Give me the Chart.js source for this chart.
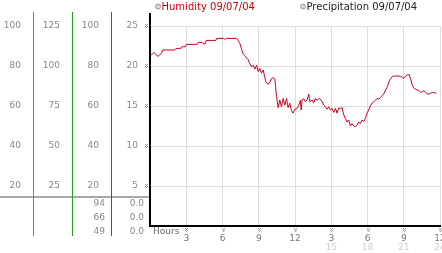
<!DOCTYPE html>
<html>
<head>
<meta charset="utf-8">
<script src="https://cdn.jsdelivr.net/npm/chart.js@4/dist/chart.umd.min.js"></script>
<style>
    html, body { margin: 0; padding: 0; background: #fff; }
    #wrap { width: 442px; height: 253px; }
</style>
</head>
<body>
<div id="wrap"><canvas id="chart" width="442" height="253"></canvas></div>
<script>
// Humidity 09/07/04 (heure, valeur)
const hours = [
    0, 0.2, 0.3, 0.45, 0.63, 0.8, 0.95, 1.05, 2.05, 2.15,
    2.55, 2.62, 2.92, 3.0, 3.9, 3.98, 4.35, 4.45, 4.58, 4.65,
    5.45, 5.52, 6.1, 6.2, 6.3, 7.16, 7.3, 7.44, 7.6, 7.71,
    7.85, 7.99, 8.12, 8.26, 8.4, 8.54, 8.68, 8.82, 8.95, 9.09,
    9.23, 9.37, 9.5, 9.59, 9.78, 9.92, 10.06, 10.19, 10.33, 10.4,
    10.47, 10.61, 10.74, 10.88, 11.02, 11.16, 11.3, 11.43, 11.57, 11.71,
    11.84, 11.98, 12.18, 12.31, 12.45, 12.51, 12.59, 12.72, 12.86, 13.0,
    13.14, 13.22, 13.42, 13.55, 13.69, 13.83, 13.97, 14.1, 14.24, 14.38,
    14.52, 14.66, 14.79, 14.93, 15.07, 15.21, 15.35, 15.48, 15.62, 15.76,
    15.9, 16.03, 16.17, 16.31, 16.45, 16.58, 16.72, 16.86, 17.0, 17.13,
    17.27, 17.41, 17.55, 17.69, 17.82, 17.96, 18.1, 18.26, 18.4, 18.54,
    18.68, 18.81, 18.95, 19.09, 19.23, 19.37, 19.5, 19.64, 19.78, 19.92,
    20.05, 20.33, 20.61, 20.74, 20.88, 21.02, 21.16, 21.3, 21.43, 21.57,
    21.71, 21.85, 21.98, 22.12, 22.26, 22.4, 22.53, 22.67, 22.81, 22.95,
    23.09, 23.22, 23.36, 23.5, 23.64, 23.69
];
const humidity = [
    21.3, 21.5, 21.7, 21.5, 21.2, 21.4, 21.6, 22.0, 22.0, 22.2,
    22.2, 22.4, 22.4, 22.7, 22.7, 22.95, 22.95, 22.75, 22.8, 23.2,
    23.2, 23.45, 23.45, 23.3, 23.45, 23.45, 23.2, 22.8, 22.0, 21.5,
    21.3, 21.0, 20.8, 20.3, 19.9, 20.1, 19.6, 20.1, 19.3, 19.7,
    19.1, 19.5, 18.6, 18.0, 17.7, 18.0, 18.45, 18.55, 18.4, 17.3,
    16.2, 14.8, 15.75, 14.9, 15.95, 15.1, 15.95, 14.8, 15.35, 14.4,
    14.1, 14.6, 14.7, 15.1, 15.7, 14.5, 15.8, 15.9, 15.55, 15.75,
    16.5, 15.55, 15.75, 15.4, 15.95, 15.7, 15.95, 15.85, 15.55, 15.1,
    14.9, 14.6, 14.9, 14.5, 14.7, 14.2, 14.7, 14.1, 14.75, 14.7,
    14.8, 13.9, 13.45, 13.0, 13.25, 12.5, 12.8, 12.5, 12.4, 12.6,
    13.0, 12.8, 13.25, 13.05, 13.45, 14.1, 14.5, 15.1, 15.4, 15.55,
    15.75, 15.95, 15.85, 16.1, 16.3, 16.6, 17.0, 17.4, 18.05, 18.45,
    18.7, 18.75, 18.75, 18.7, 18.6, 18.45, 18.75, 18.9, 18.95, 18.4,
    17.6, 17.2, 17.1, 17.0, 16.95, 16.7, 16.8, 16.9, 16.7, 16.5,
    16.5, 16.6, 16.7, 16.7, 16.6, 16.5
];
const precipitation = []; // aucune trace visible

const legendNames = ['Humidity 09/07/04', 'Precipitation 09/07/04'];

// axes
const xTicks = [0, 3, 6, 9, 12, 15, 18, 21, 24];
const xTopLabels = ['', '3', '6', '9', '12', '3', '6', '9', '12'];
const xBottomLabels = ['', '', '', '', '', '15', '18', '21', '24'];
const yTicks = [5, 10, 15, 20, 25];
const col1Ticks = [20, 40, 60, 80, 100];
const col2Ticks = [25, 50, 75, 100, 125];
const col3Ticks = [20, 40, 60, 80, 100];

// valeurs courantes sous le séparateur gris
const col3Readouts = ['94', '66', '49'];
const col4Readouts = ['0.0', '0.0', '0.0'];

const tickFont = { family: 'DejaVu Sans', size: 9 };

function fixWidth(w) {
    return function (scale) { scale.width = w; };
}
function fixHeight(h) {
    return function (scale) {
        scale.height = h;
        scale.paddingLeft = 0;
        scale.paddingRight = 0;
    };
}
function useTicks(list) {
    return function (scale) { scale.ticks = list.map(v => ({ value: v })); };
}

function sideAxis(max, ticks, weight, width) {
    return {
        type: 'linear',
        position: 'left',
        min: 0,
        max: max,
        weight: weight,
        grid: { display: false, drawTicks: false },
        border: { display: false },
        ticks: { color: '#888', font: tickFont, padding: 12 },
        afterBuildTicks: useTicks(ticks),
        afterFit: fixWidth(width)
    };
}

// petit motif pointillé devant chaque graduation
function tickMark(c, x, y) {
    c.fillStyle = '#999';
    [[0, 0], [2, 0], [1, 1], [0, 2], [2, 2], [1, 3]].forEach(([dx, dy]) => c.fillRect(x + dx, y + dy, 1, 1));
}

const decor = {
    id: 'decor',
    afterDraw(chart) {
        const c = chart.ctx;
        const area = chart.chartArea;
        const s = chart.scales;
        c.save();

        // séparateur gris à gauche
        c.fillStyle = '#a8a8a8';
        c.fillRect(0, area.bottom - 30, area.left, 2);

        // lignes de colonnes
        const colLines = [['yA', '#0aa2d8'], ['yB', '#1fa51f'], ['yC', '#d41e1e']];
        colLines.forEach(([id, col]) => {
            c.fillStyle = col;
            c.fillRect(Math.round(s[id].right), area.top - 14, 1, area.bottom - area.top + 24);
        });

        // axes noirs
        c.fillStyle = '#000';
        c.fillRect(area.left - 1, area.top - 13, 2, area.bottom - area.top + 14);
        c.fillRect(area.left - 1, area.bottom - 1, area.right - area.left + 2, 2);

        // motifs de graduation
        yTicks.forEach(v => tickMark(c, area.left - 5, Math.round(s.y.getPixelForValue(v)) - 2));
        xTicks.slice(1).forEach(v => tickMark(c, Math.round(s.x.getPixelForValue(v)) - 1, area.bottom + 2));

        c.font = '9px "DejaVu Sans"';
        c.textBaseline = 'middle';
        c.fillStyle = '#666';
        c.textAlign = 'left';
        c.fillText('Hours', area.left + 3, area.bottom + 6);

        c.fillStyle = '#888';
        c.textAlign = 'right';
        [-22, -8, 6].forEach((dy, i) => {
            c.fillText(col3Readouts[i], s.yC.right - 6, area.bottom + dy);
            c.fillText(col4Readouts[i], s.y.right - 6, area.bottom + dy);
        });

        // légende
        const legendX = [area.left + 8, area.left + 153];
        const legendColors = ['#cc0000', '#222'];
        c.font = '10px "DejaVu Sans"';
        c.textAlign = 'left';
        legendNames.forEach((name, i) => {
            c.beginPath();
            c.arc(legendX[i], 6.5, 2.5, 0, Math.PI * 2);
            c.fillStyle = '#d8d8d8';
            c.fill();
            c.strokeStyle = '#999';
            c.lineWidth = 1;
            c.stroke();
            c.fillStyle = legendColors[i];
            c.fillText(name, legendX[i] + 3.5, 7);
        });
        c.restore();
    }
};

new Chart(document.getElementById('chart'), {
    type: 'line',
    data: {
        datasets: [{
            label: legendNames[0],
            data: hours.map((h, i) => ({ x: h, y: humidity[i] })),
            borderColor: '#cc0022',
            borderWidth: 1,
            pointRadius: 0,
            tension: 0,
            fill: false,
            xAxisID: 'x',
            yAxisID: 'y'
        }, {
            label: legendNames[1],
            data: precipitation,
            borderColor: '#888',
            borderWidth: 1,
            pointRadius: 0,
            xAxisID: 'x',
            yAxisID: 'y'
        }]
    },
    options: {
        responsive: false,
        animation: false,
        layout: { padding: { top: 26, right: 2, left: 0, bottom: 0 } },
        plugins: { legend: { display: false }, tooltip: { enabled: false } },
        scales: {
            x: {
                type: 'linear',
                position: 'bottom',
                min: 0,
                max: 24,
                weight: 0,
                grid: { color: '#dddddd', drawTicks: false },
                border: { display: false },
                ticks: {
                    color: '#777',
                    font: tickFont,
                    padding: 7,
                    autoSkip: false,
                    maxRotation: 0,
                    minRotation: 0,
                    callback: (v, i) => xTopLabels[i]
                },
                afterBuildTicks: useTicks(xTicks),
                afterFit: fixHeight(16)
            },
            x2: {
                type: 'linear',
                position: 'bottom',
                min: 0,
                max: 24,
                weight: 1,
                grid: { display: false, drawTicks: false },
                border: { display: false },
                ticks: {
                    color: '#cccccc',
                    font: tickFont,
                    padding: 0,
                    autoSkip: false,
                    maxRotation: 0,
                    minRotation: 0,
                    callback: (v, i) => xBottomLabels[i]
                },
                afterBuildTicks: useTicks(xTicks),
                afterFit: fixHeight(11)
            },
            yA: sideAxis(100, col1Ticks, 3, 33),
            yB: sideAxis(125, col2Ticks, 2, 39),
            yC: sideAxis(100, col3Ticks, 1, 39),
            y: {
                type: 'linear',
                position: 'left',
                min: 0,
                max: 25,
                weight: 0,
                grid: { color: '#dddddd', drawTicks: false },
                border: { display: false },
                ticks: { color: '#888', font: tickFont, padding: 12 },
                afterBuildTicks: useTicks(yTicks),
                afterFit: fixWidth(39)
            }
        }
    },
    plugins: [decor]
});
</script>
</body>
</html>
